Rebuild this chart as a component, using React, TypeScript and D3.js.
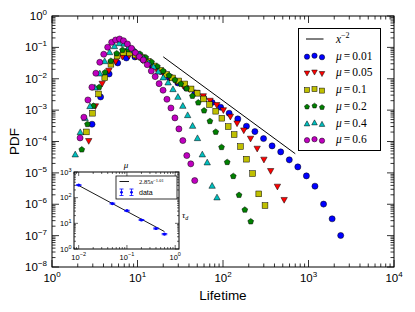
import React from 'react';
import * as d3 from 'd3';

// ---------- data ----------
const muLabels = ['0.01', '0.05', '0.1', '0.2', '0.4', '0.6'];

const lifetimeMu001 = [2.94, 3.7, 4.66, 5.87, 7.4, 9.33, 11.7, 14.8, 18.6, 23.5, 29.6, 37.2, 47.0, 59.1, 74.5, 93.8, 118, 149, 188, 236, 298, 375, 473, 596, 750, 945, 1190, 1500, 1890, 2380];
const pdfMu001 = [3.56e-4, 2.63e-3, 0.0142, 0.0319, 0.0459, 0.0495, 0.0397, 0.0265, 0.0171, 0.011, 7.35e-3, 5.09e-3, 3.53e-3, 2.45e-3, 1.76e-3, 1.24e-3, 7.96e-4, 5.25e-4, 3.07e-4, 2.07e-4, 1.24e-4, 7.24e-5, 4.67e-5, 2.6e-5, 1.55e-5, 8.02e-6, 3.77e-6, 1.01e-6, 3.43e-7, 1.01e-7];

const lifetimeMu005 = [2.69, 3.22, 3.86, 4.63, 5.56, 6.66, 7.98, 9.57, 11.5, 13.8, 16.5, 19.8, 23.7, 28.5, 34.1, 40.9, 49.0, 58.8, 70.5, 84.5, 101, 122, 146, 175, 210, 251, 301, 361, 433, 519];
const pdfMu005 = [1.02e-4, 1.31e-3, 6.83e-3, 0.0177, 0.0343, 0.0495, 0.0532, 0.0495, 0.0383, 0.0285, 0.0205, 0.0153, 0.011, 7.91e-3, 5.9e-3, 4.56e-3, 3.53e-3, 2.73e-3, 1.96e-3, 1.43e-3, 9.78e-4, 6.07e-4, 3.72e-4, 2.22e-4, 1.21e-4, 5.81e-5, 2.6e-5, 1.13e-5, 3.58e-6, 1.35e-6];

const lifetimeMu01 = [2.52, 2.97, 3.51, 4.14, 4.89, 5.77, 6.82, 8.05, 9.5, 11.2, 13.3, 15.6, 18.5, 21.8, 25.7, 30.4, 35.8, 42.3, 49.9, 59.0, 69.6, 82.2, 97.0, 115, 135, 160, 188, 222, 262, 310];
const pdfMu01 = [2.02e-4, 7.96e-4, 3.28e-3, 0.0108, 0.029, 0.0532, 0.0688, 0.0663, 0.0573, 0.0477, 0.0356, 0.0256, 0.0184, 0.0137, 0.0106, 8.51e-3, 6.83e-3, 4.73e-3, 3.45e-3, 2.27e-3, 1.5e-3, 9.23e-4, 5.52e-4, 2.98e-4, 1.66e-4, 6.89e-5, 2.73e-5, 9.5e-6, 2.14e-6, 9.09e-7];

const lifetimeMu02 = [2.23, 2.6, 3.05, 3.56, 4.17, 4.88, 5.71, 6.68, 7.81, 9.14, 10.7, 12.5, 14.6, 17.1, 20.0, 23.4, 27.4, 32.1, 37.5, 43.9, 51.4, 60.1, 70.3, 82.2, 96.2, 112, 132, 154, 180, 211];
const pdfMu02 = [5.52e-5, 3.56e-4, 1.36e-3, 5.36e-3, 0.0159, 0.0369, 0.064, 0.0827, 0.0857, 0.0768, 0.0616, 0.0477, 0.0343, 0.0247, 0.0177, 0.0127, 9.16e-3, 6.83e-3, 4.84e-3, 2.83e-3, 1.73e-3, 9.64e-4, 4.43e-4, 2.02e-4, 6.58e-5, 2.19e-5, 7.85e-6, 1.96e-6, 6.64e-7, 2.81e-7];

const lifetimeMu04 = [1.87, 2.14, 2.44, 2.78, 3.17, 3.62, 4.13, 4.71, 5.37, 6.12, 6.98, 7.96, 9.08, 10.4, 11.8, 13.5, 15.4, 17.5, 20.0, 22.8, 26.0, 29.7, 33.9, 38.6, 44.1, 50.3, 57.3, 65.4, 74.6, 85.1];
const pdfMu04 = [3.94e-5, 2.02e-4, 5.65e-4, 1.36e-3, 5.36e-3, 0.015, 0.0369, 0.0714, 0.111, 0.138, 0.133, 0.107, 0.0827, 0.0616, 0.0459, 0.033, 0.0247, 0.0173, 0.0112, 7.74e-3, 4.73e-3, 2.69e-3, 1.39e-3, 7.03e-4, 3.21e-4, 1.3e-4, 3.94e-5, 2.19e-5, 3.94e-6, 1.68e-6];

const lifetimeMu06 = [2.13, 2.36, 2.63, 2.93, 3.26, 3.62, 4.03, 4.48, 4.99, 5.55, 6.17, 6.86, 7.63, 8.49, 9.44, 10.5, 11.7, 13.0, 14.5, 16.1, 17.9, 19.9, 22.1, 24.6, 27.4, 30.5, 33.9, 37.7, 42.0, 46.7];
const pdfMu06 = [1.3e-4, 5.94e-4, 2.11e-3, 5.36e-3, 0.015, 0.0335, 0.0603, 0.101, 0.145, 0.172, 0.185, 0.163, 0.128, 0.0936, 0.0678, 0.0506, 0.0397, 0.0281, 0.0177, 0.0117, 6.98e-3, 4.31e-3, 2.22e-3, 1.17e-3, 5.65e-4, 2.52e-4, 1.07e-4, 3.56e-5, 1.94e-5, 5.69e-6];

// reference power law x^-2
const refLifetime = [20, 700];
const refPdf = [0.05, 4.08e-5];

// inset: decay time vs mu
const insetMu = [0.01, 0.05, 0.1, 0.2, 0.4, 0.6];
const insetTau = [310, 59, 31, 13.5, 6.3, 3.8];
const insetErr = [12, 2.5, 1.3, 0.6, 0.3, 0.2];
const fitCoef = 2.85;
const fitExp = -1.01;
const fitRange = [0.01, 0.6];

const seriesLifetimes = [lifetimeMu001, lifetimeMu005, lifetimeMu01, lifetimeMu02, lifetimeMu04, lifetimeMu06];
const seriesPdfs = [pdfMu001, pdfMu005, pdfMu01, pdfMu02, pdfMu04, pdfMu06];

// ---------- styling ----------
const colors = ['#0000ff', '#ff0000', '#bfbf00', '#008000', '#00bfbf', '#bf00bf'];
const markerTypes = ['circle', 'triDown', 'square', 'pentagon', 'triUp', 'circle'];
const SANS = '"Liberation Sans", Arial, Helvetica, sans-serif';
const SERIF = '"Liberation Serif", "Times New Roman", serif';

function Marker({ type, cx, cy, color, s = 6.4 }: { type: string; cx: number; cy: number; color: string; s?: number }) {
  const h = s / 2;
  const common = { fill: color, stroke: '#000', strokeWidth: 0.5 };
  if (type === 'circle') return <circle cx={cx} cy={cy} r={h * 0.95} {...common} />;
  if (type === 'square') return <rect x={cx - h * 0.9} y={cy - h * 0.9} width={h * 1.8} height={h * 1.8} {...common} />;
  if (type === 'triDown')
    return <path d={`M${cx - h},${cy - h * 0.85}L${cx + h},${cy - h * 0.85}L${cx},${cy + h * 0.95}Z`} {...common} />;
  if (type === 'triUp')
    return <path d={`M${cx},${cy - h * 0.95}L${cx + h},${cy + h * 0.85}L${cx - h},${cy + h * 0.85}Z`} {...common} />;
  // pentagon
  const r = h * 0.95;
  const pts = d3.range(5).map((k) => {
    const a = -Math.PI / 2 + (k * 2 * Math.PI) / 5;
    return [cx + r * Math.cos(a), cy + r * Math.sin(a)];
  });
  return <path d={'M' + pts.map((p) => p.join(',')).join('L') + 'Z'} {...common} />;
}

const isMajor = (v: number) => Math.abs(Math.log10(v) - Math.round(Math.log10(v))) < 1e-6;
const expStr = (v: number) => {
  const e = Math.round(Math.log10(v));
  return e < 0 ? '\u2212' + Math.abs(e) : String(e);
};

function LogFrame({
  x, y, majorLen, minorLen, labelSize, supSize, xLabelDy, yLabelDx, yLabelDy, supDy, sw,
}: any) {
  const [x0, x1] = x.range();
  const [y0, y1] = y.range(); // y0 bottom, y1 top
  const xt = x.ticks();
  const yt = y.ticks();
  const els: any[] = [];
  xt.forEach((v: number, i: number) => {
    const px = x(v);
    if (px < x0 - 0.1 || px > x1 + 0.1) return;
    const L = isMajor(v) ? majorLen : minorLen;
    els.push(<line key={'xb' + i} x1={px} x2={px} y1={y0} y2={y0 - L} stroke="#000" strokeWidth={sw} />);
    els.push(<line key={'xt' + i} x1={px} x2={px} y1={y1} y2={y1 + L} stroke="#000" strokeWidth={sw} />);
    if (isMajor(v))
      els.push(
        <text key={'xl' + i} x={px} y={y0 + xLabelDy} textAnchor="middle" fontFamily={SANS} fontSize={labelSize} fill="#000">
          10<tspan fontSize={supSize} dy={supDy}>{expStr(v)}</tspan>
        </text>
      );
  });
  yt.forEach((v: number, i: number) => {
    const py = y(v);
    if (py > y0 + 0.1 || py < y1 - 0.1) return;
    const L = isMajor(v) ? majorLen : minorLen;
    els.push(<line key={'yl' + i} x1={x0} x2={x0 + L} y1={py} y2={py} stroke="#000" strokeWidth={sw} />);
    els.push(<line key={'yr' + i} x1={x1} x2={x1 - L} y1={py} y2={py} stroke="#000" strokeWidth={sw} />);
    if (isMajor(v))
      els.push(
        <text key={'ylab' + i} x={x0 - yLabelDx} y={py + yLabelDy} textAnchor="end" fontFamily={SANS} fontSize={labelSize} fill="#000">
          10<tspan fontSize={supSize} dy={supDy}>{expStr(v)}</tspan>
        </text>
      );
  });
  return (
    <g>
      <rect x={x0} y={y1} width={x1 - x0} height={y0 - y1} fill="none" stroke="#000" strokeWidth={1} />
      {els}
    </g>
  );
}

export default function App() {
  const x = d3.scaleLog().domain([1, 1e4]).range([52, 394]);
  const y = d3.scaleLog().domain([1e-8, 1]).range([267, 16]);

  const ix = d3.scaleLog().domain([0.008, 1.2]).range([74, 179]);
  const iy = d3.scaleLog().domain([1, 1000]).range([249, 172]);

  const refLine = d3.line<number>().x((_, i) => x(refLifetime[i])).y((_, i) => y(refPdf[i]))(refLifetime);
  const fitLine = d3
    .line<number>()
    .x((v) => ix(v))
    .y((v) => iy(fitCoef * Math.pow(v, fitExp)))(fitRange);

  // legend layout
  const legX = 298.5, legY = 28.5, legW = 82, legH = 122;
  const rowY = (k: number) => legY + 10.5 + k * 16.7;
  const scatterOffsets = [1, 0, 1.5];

  return (
    <svg width={415} height={312} style={{ position: 'absolute', left: 0, top: 0, background: '#fff' }}>
      <rect x={0} y={0} width={415} height={312} fill="#fff" />
      <LogFrame x={x} y={y} majorLen={7} minorLen={3.5} labelSize={11.5} supSize={8} xLabelDy={15} yLabelDx={5} yLabelDy={4} supDy={-5} sw={0.8} />

      {/* reference line */}
      <path d={refLine || ''} stroke="#000" strokeWidth={1} fill="none" />

      {/* scatter series */}
      {seriesLifetimes.map((lts, si) => (
        <g key={'s' + si}>
          {lts.map((lt, j) => (
            <Marker key={j} type={markerTypes[si]} cx={x(lt)} cy={y(seriesPdfs[si][j])} color={colors[si]} />
          ))}
        </g>
      ))}

      {/* main legend */}
      <rect x={legX} y={legY} width={legW} height={legH} fill="#fff" stroke="#000" strokeWidth={1} />
      <line x1={306} x2={323.5} y1={rowY(0)} y2={rowY(0)} stroke="#000" strokeWidth={1} />
      <text x={336} y={rowY(0) + 4} fontFamily={SERIF} fontSize={11.5} fontStyle="italic">
        x<tspan fontSize={8} dy={-5} fontStyle="normal">{'\u22122'}</tspan>
      </text>
      {muLabels.map((m, si) => (
        <g key={'lg' + si}>
          {[307, 314.5, 322].map((mx, k) => (
            <Marker key={k} type={markerTypes[si]} cx={mx} cy={rowY(si + 1) + scatterOffsets[k]} color={colors[si]} s={5.6} />
          ))}
          <text x={336} y={rowY(si + 1) + 4} fontFamily={SERIF} fontSize={11.5}>
            <tspan fontStyle="italic">{'\u03bc'}</tspan>
            <tspan dx={2}>=</tspan>
            <tspan dx={2}>{m}</tspan>
          </text>
        </g>
      ))}

      {/* inset */}
      <rect x={74} y={172} width={105} height={77} fill="#fff" />
      <LogFrame x={ix} y={iy} majorLen={4} minorLen={2} labelSize={7.5} supSize={5.5} xLabelDy={10.5} yLabelDx={2.5} yLabelDy={2.8} supDy={-3.2} sw={0.6} />
      <path d={fitLine || ''} stroke="#000" strokeWidth={0.9} fill="none" />
      {insetMu.map((m, i) => {
        const px = ix(m);
        const yTop = iy(insetTau[i] + insetErr[i]);
        const yBot = iy(insetTau[i] - insetErr[i]);
        return (
          <g key={'ins' + i}>
            <line x1={px} x2={px} y1={yTop} y2={yBot} stroke="#0000ff" strokeWidth={0.8} />
            <line x1={px - 2.8} x2={px + 2.8} y1={yTop} y2={yTop} stroke="#0000ff" strokeWidth={0.8} />
            <line x1={px - 2.8} x2={px + 2.8} y1={yBot} y2={yBot} stroke="#0000ff" strokeWidth={0.8} />
            <circle cx={px} cy={iy(insetTau[i])} r={1.6} fill="#0000ff" />
          </g>
        );
      })}
      {/* inset legend */}
      <rect x={116} y={176} width={61} height={23} fill="#fff" stroke="#000" strokeWidth={0.8} />
      <line x1={119.5} x2={129} y1={181.5} y2={181.5} stroke="#000" strokeWidth={0.9} />
      <text x={139} y={184} fontFamily={SERIF} fontSize={6.5}>
        2.85<tspan fontStyle="italic">x</tspan>
        <tspan fontSize={4.5} dy={-2.5}>{'\u22121.01'}</tspan>
      </text>
      {[121.5, 131.5].map((ex, k) => (
        <g key={'le' + k}>
          <line x1={ex} x2={ex} y1={189} y2={195.5} stroke="#0000ff" strokeWidth={0.8} />
          <line x1={ex - 2} x2={ex + 2} y1={189} y2={189} stroke="#0000ff" strokeWidth={0.8} />
          <line x1={ex - 2} x2={ex + 2} y1={195.5} y2={195.5} stroke="#0000ff" strokeWidth={0.8} />
          <circle cx={ex} cy={192.3} r={1.4} fill="#0000ff" />
        </g>
      ))}
      <text x={139} y={195} fontFamily={SANS} fontSize={7}>data</text>
      <text x={126} y={168} textAnchor="middle" fontFamily={SERIF} fontSize={9} fontStyle="italic">{'\u03bc'}</text>
      <text x={182} y={218} fontFamily={SERIF} fontSize={9} fontStyle="italic">
        {'\u03c4'}<tspan fontSize={6} dy={2}>d</tspan>
      </text>

      {/* axis labels */}
      <text x={223} y={300} textAnchor="middle" fontFamily={SANS} fontSize={13.5}>Lifetime</text>
      <text transform="translate(19,141.5) rotate(-90)" textAnchor="middle" fontFamily={SANS} fontSize={13.5}>PDF</text>
    </svg>
  );
}
